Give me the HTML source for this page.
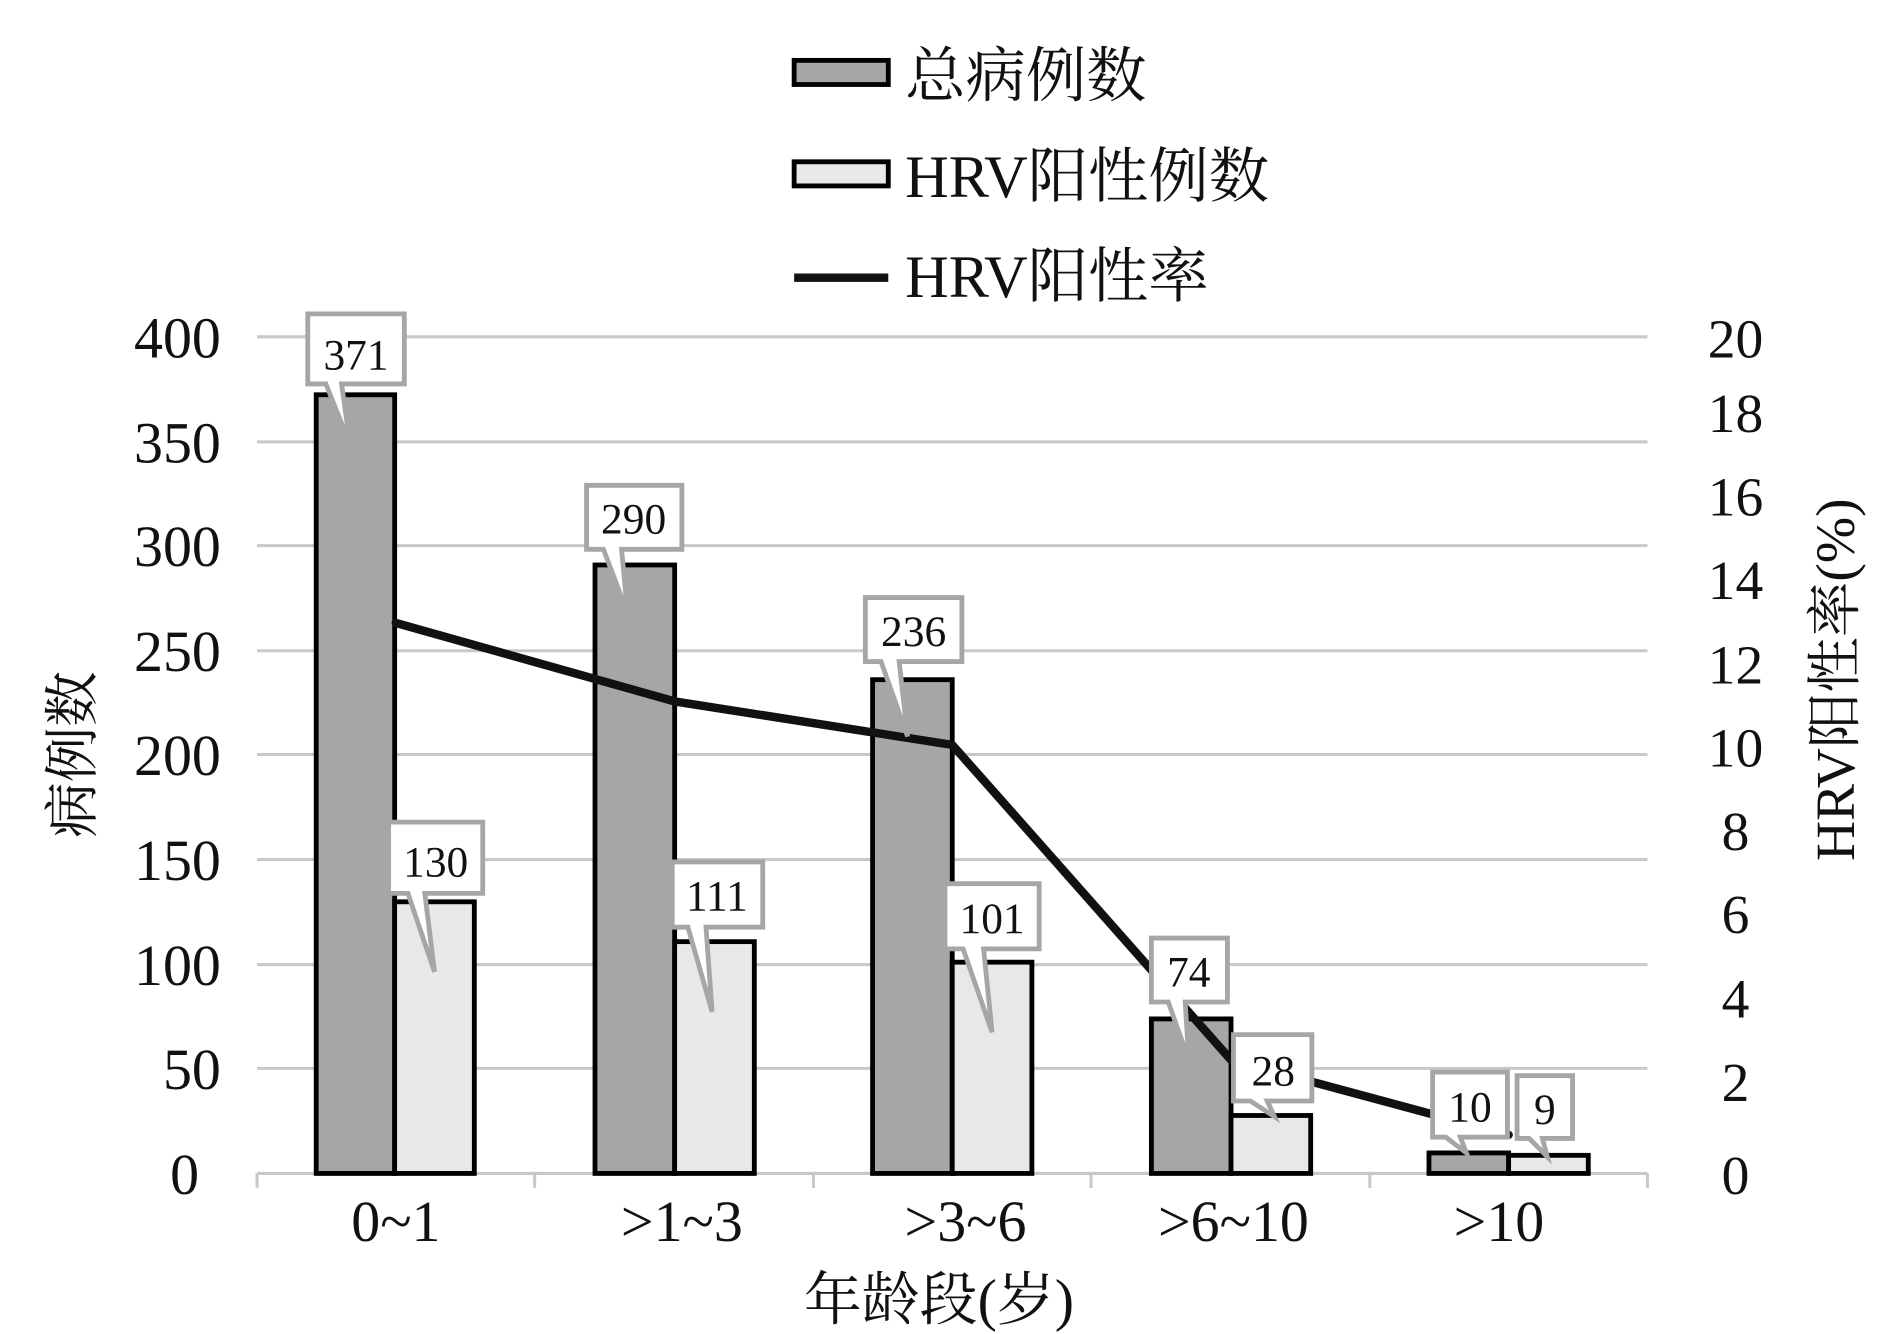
<!DOCTYPE html>
<html><head><meta charset="utf-8"><style>html,body{margin:0;padding:0;background:#fff}svg{display:block}</style></head>
<body>
<svg width="1890" height="1334" viewBox="0 0 1566 1105" preserveAspectRatio="none" xmlns="http://www.w3.org/2000/svg" font-family="'Liberation Serif','Noto Serif CJK SC',serif">
<g stroke="#c8c8c8" stroke-width="2.5">
<line x1="213" y1="279" x2="1365" y2="279"/><line x1="213" y1="366" x2="1365" y2="366"/>
<line x1="213" y1="452" x2="1365" y2="452"/><line x1="213" y1="539" x2="1365" y2="539"/>
<line x1="213" y1="625" x2="1365" y2="625"/><line x1="213" y1="712" x2="1365" y2="712"/>
<line x1="213" y1="799" x2="1365" y2="799"/><line x1="213" y1="885" x2="1365" y2="885"/>
<line x1="213" y1="972" x2="1365" y2="972"/>
<line x1="213" y1="972" x2="213" y2="984"/><line x1="443" y1="972" x2="443" y2="984"/>
<line x1="674" y1="972" x2="674" y2="984"/><line x1="904" y1="972" x2="904" y2="984"/>
<line x1="1135" y1="972" x2="1135" y2="984"/><line x1="1365" y1="972" x2="1365" y2="984"/>
</g>
<g stroke="#000" stroke-width="4">
<rect x="262" y="327" width="65" height="645" fill="#a6a6a6"/>
<rect x="327" y="747" width="66" height="225" fill="#e8e8e8"/>
<rect x="493" y="468" width="66" height="504" fill="#a6a6a6"/>
<rect x="559" y="780" width="66" height="192" fill="#e8e8e8"/>
<rect x="723" y="563" width="66" height="409" fill="#a6a6a6"/>
<rect x="789" y="797" width="66" height="175" fill="#e8e8e8"/>
<rect x="954" y="844" width="66" height="128" fill="#a6a6a6"/>
<rect x="1020" y="924" width="66" height="48" fill="#e8e8e8"/>
<rect x="1184" y="955" width="66" height="17" fill="#a6a6a6"/>
<rect x="1250" y="957" width="66" height="15" fill="#e8e8e8"/>
</g>
<polyline points="328,516 559,581 789,617 1020,878 1250,940" fill="none" stroke="#111" stroke-width="7" stroke-linejoin="round" stroke-linecap="round"/>
<g fill="#fff" stroke="#a6a6a6" stroke-width="4">
<path d="M255,260H335V318H283L290,368L270,318H255Z"/>
<path d="M322,681H400V740H352L360,805L338,740H322Z"/>
<path d="M486,402H565V455H515L520,508L500,455H486Z"/>
<path d="M557,714H632V768H585L590,838L570,768H557Z"/>
<path d="M717,495H797V548H745L752,610L730,548H717Z"/>
<path d="M783,732H861V786H815L822,855L798,786H783Z"/>
<path d="M954,777H1017V830H982L985,878L968,830H954Z"/>
<path d="M1022,857H1087V912H1050L1056,925L1036,912H1022Z"/>
<path d="M1187,888H1249V942H1210L1215,955L1198,942H1187Z"/>
<path d="M1257,891H1303V943H1278L1282,958L1267,943H1257Z"/>
</g>
<g font-size="36" text-anchor="middle" fill="#111">
<text x="295" y="306">371</text><text x="361" y="726">130</text>
<text x="525" y="442">290</text><text x="594" y="754">111</text>
<text x="757" y="535">236</text><text x="822" y="773">101</text>
<text x="985" y="817">74</text><text x="1055" y="899">28</text>
<text x="1218" y="929">10</text><text x="1280" y="931">9</text>
</g>
<g font-size="48" text-anchor="end" fill="#111">
<text x="183" y="296">400</text><text x="183" y="383">350</text><text x="183" y="469">300</text>
<text x="183" y="556">250</text><text x="183" y="642">200</text><text x="183" y="729">150</text>
<text x="183" y="816">100</text><text x="183" y="902">50</text><text x="165" y="989">0</text>
</g>
<g font-size="46" text-anchor="middle" fill="#111">
<text x="1438" y="296">20</text><text x="1438" y="358">18</text><text x="1438" y="427">16</text>
<text x="1438" y="496">14</text><text x="1438" y="566">12</text><text x="1438" y="635">10</text>
<text x="1438" y="704">8</text><text x="1438" y="773">6</text><text x="1438" y="843">4</text>
<text x="1438" y="912">2</text><text x="1438" y="989">0</text>
</g>
<g font-size="48" text-anchor="middle" fill="#111">
<text x="328" y="1028">0~1</text><text x="565" y="1028">&gt;1~3</text><text x="800" y="1028">&gt;3~6</text>
<text x="1022" y="1028">&gt;6~10</text><text x="1242" y="1028">&gt;10</text>
<text x="778" y="1093">年龄段(岁)</text>
</g>
<text transform="translate(76,625) rotate(-90)" font-size="46" text-anchor="middle" fill="#111">病例数</text>
<text transform="translate(1536,563) rotate(-90)" font-size="46" text-anchor="middle" fill="#111">HRV阳性率(%)</text>
<rect x="658" y="50" width="78" height="20" fill="#a6a6a6" stroke="#000" stroke-width="4"/>
<rect x="658" y="134" width="78" height="20" fill="#e8e8e8" stroke="#000" stroke-width="4"/>
<line x1="658" y1="230" x2="736" y2="230" stroke="#111" stroke-width="7"/>
<g font-size="50" fill="#111">
<text x="750" y="80">总病例数</text>
<text x="750" y="163">HRV阳性例数</text>
<text x="750" y="246">HRV阳性率</text>
</g>
</svg>
</body></html>
